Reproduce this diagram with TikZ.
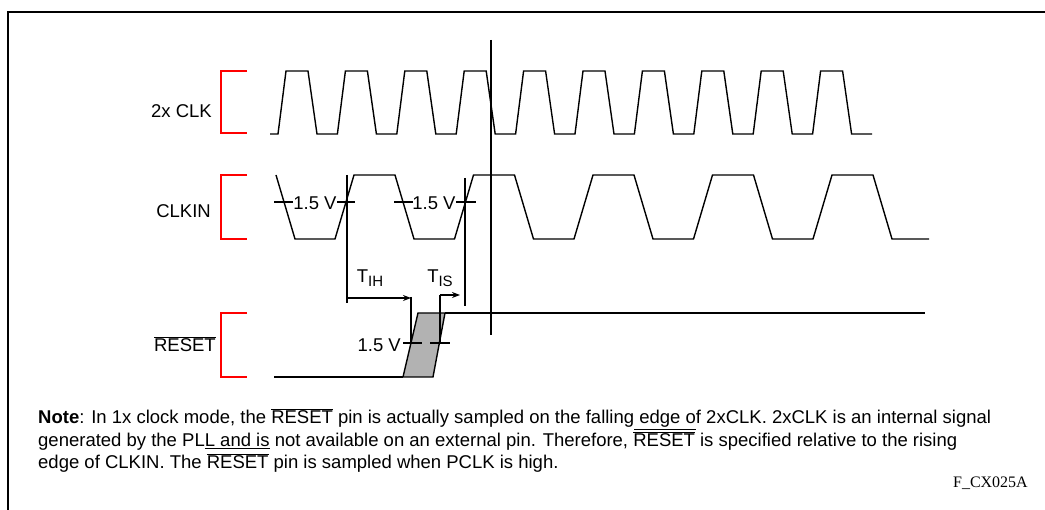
\documentclass[tikz,border=0pt]{standalone}
\usepackage{fontspec}
\setmainfont{Liberation Sans}
\newfontfamily\figfont{Liberation Serif}
\usetikzlibrary{positioning,arrows.meta}
\newcommand\barsig[1]{\smash{$\overline{\mbox{#1}}$}}
\newcommand\ulsig[1]{\smash{$\underline{\mbox{#1}}$}}

\begin{document}
\begin{tikzpicture}[
  x=1pt, y=-1pt, font=\fontsize{18.5}{22.5}\selectfont,
  frame/.style={line width=1.6pt},
  wave/.style={line width=1.4pt, line join=miter},
  bus/.style={line width=2.6pt},
  tick/.style={line width=2.4pt},
  guide/.style={line width=1.3pt},
  bracket/.style={draw=red, line width=2.2pt},
  arr/.style={-{Stealth[length=8pt, width=6pt]}, line width=1.3pt},
  sig/.style={anchor=east, inner sep=0pt},
  lvl/.style={inner sep=0pt}]
\useasboundingbox (0,0) rectangle (1045,510);
\draw[frame] (8,510) |- (1045,12);
% --- signal names with red brackets
\node[sig] (nclk) at (212,111) {2x CLK};
\node[sig] (nin) at (211,211) {CLKIN};
\node[sig, anchor=base east] (nrst) at (216,352) {\barsig{RESET}};
\draw[bracket] (247,71) -| (221,133) -- (247,133);
\draw[bracket] (247,175) -| (221,239) -- (247,239);
\draw[bracket] (247,313) -| (221,377) -- (247,377);
% --- 2x CLK
\draw[wave] (270,134) \foreach \k in {0,...,9}{
  -- ({278+59.4*\k},134) -- ++(8,-63) -- ++(22,0) -- ++(9,63)} -- (872,134);
% --- CLKIN
\draw[wave] (276,175) -- (295,239) \foreach \k in {0,...,4}{
  -- ({335+119.5*\k},239) -- ++(19,-64) -- ++(41,0) -- ++(19,64)} -- (929,239);
\draw[tick] (274,202) -- (293,202) (337,202) -- (355,202)
  (394,202) -- (413,202) (456,202) -- (476,202);
\node[lvl] (v1) at (315,203) {1.5 V};
\node[lvl] (v2) at (434,203) {1.5 V};
% --- RESET
\draw[bus] (274,377) -- (403,377);
\draw[wave, fill=black!30] (403,377) -- (418,313) -- (445,313) -- (433,377) -- cycle;
\draw[bus] (445,313) -- (925,313);
\draw[tick] (403,343) -- (422,343) (430,343) -- (450,343);
\node[lvl, anchor=east] (v3) at (401,345) {1.5 V};
% --- timing guides
\coordinate (hold) at (347,175);
\coordinate (setup) at (465,178);
\coordinate (edge) at (491,40);
\draw[guide] (hold) -- (347,303);
\draw[guide] (setup) -- (465,306);
\draw[guide] (edge) -- (491,335);
\draw[guide] (411,297) coordinate (ih) -- (411,343);
\draw[guide] (440,295) coordinate (is) -- (440,343);
\draw[arr] (347,298) -- (ih |- 0,298);
\draw[arr] (is) -- ++(20,0);
\node[lvl] (tih) at (370,278) {T\raisebox{-.45ex}{\fontsize{15}{15}\selectfont IH}};
\node[lvl] (tis) at (440,278) {T\raisebox{-.45ex}{\fontsize{15}{15}\selectfont IS}};
% --- note
\node[anchor=base west, align=left, inner sep=0pt] (note) at (38,469) {%
  \textbf{Note}: In 1x clock mode, the \barsig{RESET} pin is actually sampled on the falling\ulsig{ edge o}f 2xCLK. 2xCLK is an internal signal\\
  generated by the PL\ulsig{L and is} not available on an external pin. Therefore, \barsig{RESET} is specified relative to the rising\\
  edge of CLKIN. The \barsig{RESET} pin is sampled when PCLK is high.};
\node[anchor=east, inner sep=0pt, font=\figfont\fontsize{16}{16}\selectfont] (fig) at (1028,483) {F\_CX025A};
\end{tikzpicture}
\end{document}
